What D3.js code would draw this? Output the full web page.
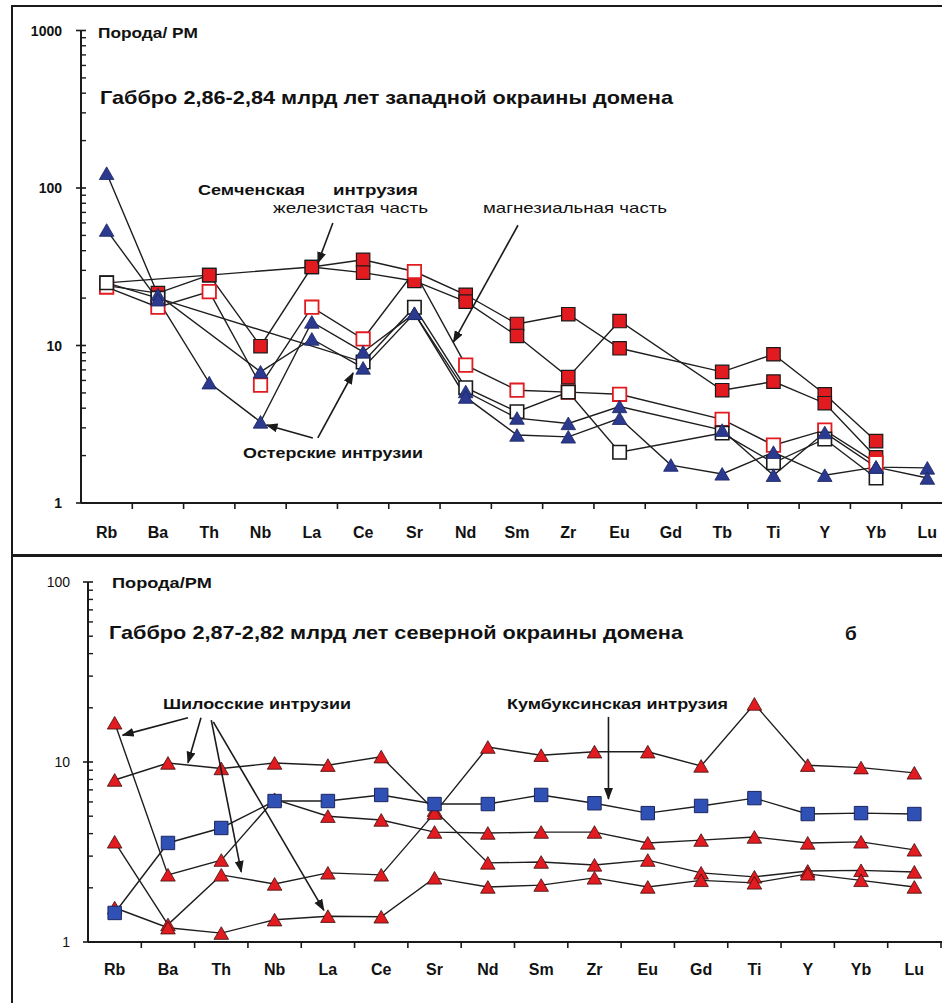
<!DOCTYPE html>
<html>
<head>
<meta charset="utf-8">
<script src="https://cdn.jsdelivr.net/npm/d3@7"></script>
<style>
	body { margin: 0; background: #fff; }
	svg { display: block; font-family: "Liberation Sans", Arial, sans-serif; }
</style>
</head>
<body>
<svg id="chart" width="942" height="1003"></svg>
<script>
// ---------------------------------------------------------------- data
var elementsA = ["Rb", "Ba", "Th", "Nb", "La", "Ce", "Sr", "Nd", "Sm", "Zr", "Eu", "Gd", "Tb", "Ti", "Y", "Yb", "Lu"];
var elementsB = ["Rb", "Ba", "Th", "Nb", "La", "Ce", "Sr", "Nd", "Sm", "Zr", "Eu", "Gd", "Ti", "Y", "Yb", "Lu"];
var ticksA = [1, 10, 100, 1000];
var ticksB = [1, 10, 100];

// panel a: gabbro 2.86-2.84 Ga, western margin (null = not analysed)
var semFe1 = [25, null, 28, null, 31.5, 35, 29.5, 21, 13.7, 15.8, 9.6, null, 6.8, 8.8, 4.9, 2.47, null];
var semFe2 = [24, 21.5, 28, 9.9, 31.5, 29, 25.7, 19, 11.5, 6.3, 14.3, null, 5.2, 5.9, 4.3, 1.95, null];
var semMg1 = [23.5, 17.5, 22, 5.6, 17.5, 11, 29.5, 7.5, 5.2, 5.06, 4.9, null, 3.4, 2.33, 2.9, 1.8, null];
var semMg2 = [25, 20, null, null, null, 7.85, 17.5, 5.4, 3.8, 5.06, 2.1, null, 2.78, 1.8, 2.55, 1.44, null];
var oster1 = [124, 21, null, 6.8, 11, 7.2, 16, 5.1, 3.46, 3.2, 4.1, null, 2.9, 1.5, 2.8, 1.69, 1.67];
var oster2 = [54, 19.5, 5.8, 3.27, 14.1, 9.1, 16, 4.7, 2.7, 2.63, 3.45, 1.74, 1.53, 2.1, 1.5, 1.69, 1.44];

// panel b: gabbro 2.87-2.82 Ga, northern margin
var kumbuks = [1.45, 3.55, 4.3, 6.07, 6.07, 6.56, 5.84, 5.84, 6.56, 5.9, 5.2, 5.7, 6.3, 5.14, 5.2, 5.14];
var shilos1 = [7.94, 9.87, 9.2, 9.87, 9.6, 10.7, 5.4, 2.75, 2.78, 2.68, 2.85, 2.42, 2.3, 2.48, 2.5, 2.45];
var shilos2 = [16.5, 2.36, 2.85, 6.2, 5.0, 4.76, 4.08, 4.03, 4.08, 4.08, 3.55, 3.68, 3.83, 3.55, 3.6, 3.25];
var shilos3 = [3.6, 1.25, 2.36, 2.1, 2.42, 2.36, 5.2, 12.1, 10.9, 11.4, 11.4, 9.5, 21, 9.6, 9.3, 8.7];
var shilos4 = [1.55, 1.2, 1.12, 1.33, 1.39, 1.38, 2.27, 2.02, 2.07, 2.27, 2.02, 2.2, 2.13, 2.39, 2.2, 2.02];

// ---------------------------------------------------------------- styles
var RED = "#e11b1f", NAVY = "#2b3a8f", BLUE = "#2f50b4", INK = "#1a1a1a";

var svg = d3.select("#chart");

var defs = svg.append("defs");
defs.append("marker")
	.attr("id", "arrow")
	.attr("markerUnits", "userSpaceOnUse")
	.attr("markerWidth", 12).attr("markerHeight", 10)
	.attr("refX", 11).attr("refY", 4.5)
	.attr("orient", "auto")
	.append("path")
	.attr("d", "M0,0 L12,4.5 L0,9 Z")
	.attr("fill", INK);

// panel frames
svg.append("rect")
	.attr("x", 12).attr("y", 6).attr("width", 940).attr("height", 550)
	.attr("fill", "none").attr("stroke", INK).attr("stroke-width", 2);
svg.append("rect")
	.attr("x", 12).attr("y", 555).attr("width", 940).attr("height", 460)
	.attr("fill", "none").attr("stroke", INK).attr("stroke-width", 2);

function addText(g, x, y, str, size, weight, len, anchor) {
	var t = g.append("text")
		.attr("x", x).attr("y", y)
		.attr("font-size", size)
		.attr("font-weight", weight || "bold")
		.attr("fill", "#111")
		.attr("text-anchor", anchor || "start")
		.text(str);
	if (len) t.attr("textLength", len).attr("lengthAdjust", "spacingAndGlyphs");
	return t;
}

function drawPanel(cfg) {
	var g = svg.append("g");

	var x = d3.scaleBand().domain(cfg.cats).range(cfg.xRange).paddingInner(0).paddingOuter(0);
	var xc = function(c) { return x(c) + x.bandwidth() / 2; };
	var y = d3.scaleLog().domain(cfg.yDomain).range(cfg.yRange);

	// x axis: ticks at band boundaries, labels in band centres
	var x0 = cfg.xRange[0], yb = cfg.yRange[0];
	g.append("line")
		.attr("x1", x0).attr("x2", 960).attr("y1", yb).attr("y2", yb)
		.attr("stroke", INK).attr("stroke-width", 2);
	g.selectAll(".xtick")
		.data(cfg.cats)
		.enter().append("line")
		.attr("x1", function(d) { return x(d) + x.bandwidth(); })
		.attr("x2", function(d) { return x(d) + x.bandwidth(); })
		.attr("y1", yb).attr("y2", yb + 6)
		.attr("stroke", INK).attr("stroke-width", 1.6);
	g.selectAll(".xlab")
		.data(cfg.cats)
		.enter().append("text")
		.attr("x", xc)
		.attr("y", yb + cfg.xLabelDy)
		.attr("text-anchor", "middle")
		.attr("font-size", 16)
		.attr("font-weight", "bold")
		.attr("fill", "#111")
		.text(function(d) { return d; });

	// y axis (log): major ticks cross the line, minor ticks inside
	var minors = [];
	cfg.yTicks.slice(0, -1).forEach(function(t) {
		d3.range(2, 10).forEach(function(k) { minors.push(t * k); });
	});
	g.append("line")
		.attr("x1", x0).attr("x2", x0)
		.attr("y1", y(cfg.yDomain[0])).attr("y2", y(cfg.yDomain[1]))
		.attr("stroke", INK).attr("stroke-width", 2);
	g.selectAll(".ymaj")
		.data(cfg.yTicks)
		.enter().append("line")
		.attr("x1", x0 - 5).attr("x2", x0 + 5)
		.attr("y1", y).attr("y2", y)
		.attr("stroke", INK).attr("stroke-width", 1.6);
	g.selectAll(".ymin")
		.data(minors)
		.enter().append("line")
		.attr("x1", x0).attr("x2", x0 + 5)
		.attr("y1", y).attr("y2", y)
		.attr("stroke", INK).attr("stroke-width", 1.4);
	g.selectAll(".ylab")
		.data(cfg.yTicks)
		.enter().append("text")
		.attr("x", cfg.yLabelX)
		.attr("y", y)
		.attr("dy", "0.36em")
		.attr("text-anchor", "end")
		.attr("font-size", 14)
		.attr("font-weight", cfg.yLabelWeight)
		.attr("fill", "#111")
		.text(function(d) { return d; });

	// series lines (missing values are bridged)
	var line = d3.line()
		.x(function(d) { return xc(d.cat); })
		.y(function(d) { return y(d.v); });
	var pts = function(s) {
		return cfg.cats.map(function(c, i) { return { cat: c, v: s.values[i] }; })
			.filter(function(d) { return d.v != null; });
	};
	cfg.series.forEach(function(s) {
		g.append("path")
			.datum(pts(s))
			.attr("d", line)
			.attr("fill", "none")
			.attr("stroke", "#1e1e1e")
			.attr("stroke-width", 1.4);
	});

	// markers
	var square = d3.symbol(d3.symbolSquare, 180);
	var tri = d3.symbol(d3.symbolTriangle, 92);
	cfg.series.forEach(function(s) {
		g.selectAll(null)
			.data(pts(s))
			.enter().append("path")
			.attr("d", s.shape === "tri" ? tri : square)
			.attr("transform", function(d) {
				return "translate(" + xc(d.cat) + "," + (y(d.v) + (s.shape === "tri" ? 2 : 0)) + ")";
			})
			.attr("fill", s.fill)
			.attr("stroke", s.stroke)
			.attr("stroke-width", s.sw);
	});

	// callout arrows, anchored to data coordinates
	(cfg.arrows || []).forEach(function(a) {
		g.append("line")
			.attr("x1", xc(a.from[0]) + a.from[2]).attr("y1", y(a.from[1]))
			.attr("x2", xc(a.to[0]) + a.to[2]).attr("y2", y(a.to[1]))
			.attr("stroke", INK).attr("stroke-width", 1.6)
			.attr("marker-end", "url(#arrow)");
	});

	return g;
}

// ---------------------------------------------------------------- panel a
var gA = drawPanel({
	cats: elementsA,
	xRange: [81, 953],
	yDomain: [1, 1000],
	yRange: [503, 30.5],
	yTicks: ticksA,
	yLabelX: 62,
	yLabelWeight: "bold",
	xLabelDy: 35,
	series: [
		{ values: semFe1, shape: "sq", fill: RED, stroke: INK, sw: 1.2 },
		{ values: semFe2, shape: "sq", fill: RED, stroke: INK, sw: 1.2 },
		{ values: semMg1, shape: "sq", fill: "#fff", stroke: RED, sw: 1.8 },
		{ values: semMg2, shape: "sq", fill: "#fff", stroke: INK, sw: 1.6 },
		{ values: oster1, shape: "tri", fill: NAVY, stroke: "#1b2560", sw: 0.8 },
		{ values: oster2, shape: "tri", fill: NAVY, stroke: "#1b2560", sw: 0.8 }
	],
	arrows: [
		{ from: ["La", 60, 21], to: ["La", 33.4, 6] },
		{ from: ["Sm", 58, 1], to: ["Sr", 10.5, 39] },
		{ from: ["La", 2.59, 1], to: ["Nb", 3.13, 6] },
		{ from: ["La", 2.59, 6], to: ["Ce", 6.69, -10] }
	]
});

addText(gA, 98, 38, "Порода/ PM", 14, "bold", 100);
addText(gA, 100, 104, "Габбро 2,86-2,84  млрд лет западной окраины домена", 19, "bold", 573);
addText(gA, 198, 195, "Семченская", 15, "bold", 107);
addText(gA, 333, 195, "интрузия", 15, "bold", 85);
addText(gA, 273, 213, "железистая  часть", 15, "normal", 155);
addText(gA, 483, 213, "магнезиальная часть", 15, "normal", 184);
addText(gA, 243, 458, "Остерские интрузии", 15, "bold", 180);

// ---------------------------------------------------------------- panel b
var gB = drawPanel({
	cats: elementsB,
	xRange: [88, 941],
	yDomain: [1, 100],
	yRange: [942, 582],
	yTicks: ticksB,
	yLabelX: 70,
	yLabelWeight: "normal",
	xLabelDy: 33,
	series: [
		{ values: shilos1, shape: "tri", fill: RED, stroke: "#3a1010", sw: 0.8 },
		{ values: shilos2, shape: "tri", fill: RED, stroke: "#3a1010", sw: 0.8 },
		{ values: shilos3, shape: "tri", fill: RED, stroke: "#3a1010", sw: 0.8 },
		{ values: shilos4, shape: "tri", fill: RED, stroke: "#3a1010", sw: 0.8 },
		{ values: kumbuks, shape: "sq", fill: BLUE, stroke: "#1b2560", sw: 1 }
	],
	arrows: [
		{ from: ["Ba", 17.6, 20], to: ["Rb", 14.1, 8] },
		{ from: ["Ba", 17.6, 33], to: ["Ba", 9.9, 20] },
		{ from: ["Th", 17.1, -10], to: ["Th", 2.45, 20] },
		{ from: ["Th", 16.7, -8], to: ["La", 1.5, -4] },
		{ from: ["Zr", 17.8, 14], to: ["Zr", 6.23, 14] }
	]
});

addText(gB, 112, 588, "Порода/PM", 14, "bold", 100);
addText(gB, 109, 639, "Габбро 2,87-2,82  млрд лет северной  окраины домена", 19, "bold", 574);
addText(gB, 845, 640, "б", 19, "bold");
addText(gB, 163, 709, "Шилосские интрузии", 15, "bold", 188);
addText(gB, 507, 709, "Кумбуксинская интрузия", 15, "bold", 221);
</script>
</body>
</html>
